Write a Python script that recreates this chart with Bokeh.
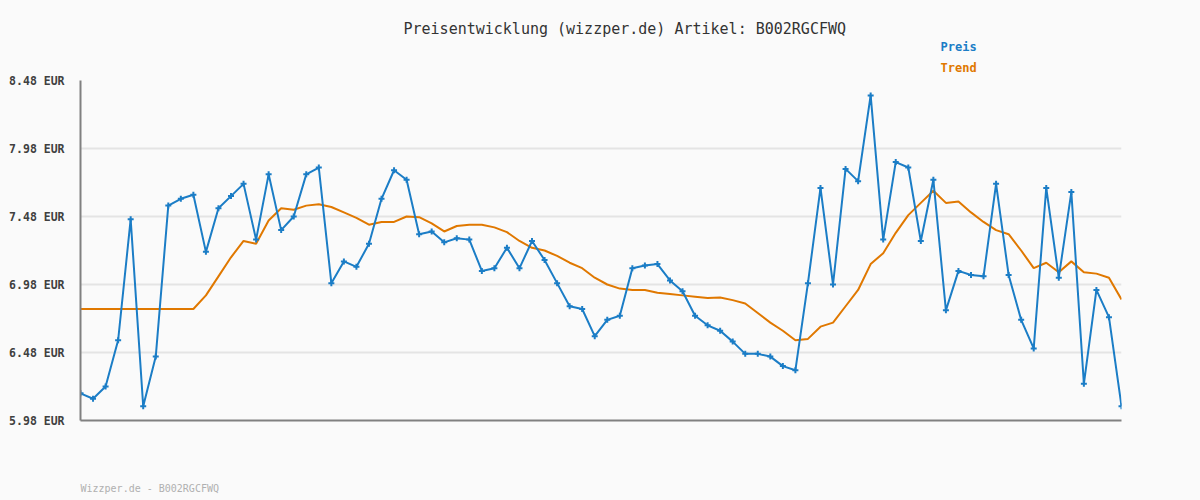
from bokeh.plotting import figure
from bokeh.models import ColumnDataSource, FixedTicker, PrintfTickFormatter, Range1d, Title
from bokeh.embed import file_html
from bokeh.resources import INLINE

preis = [6.18, 6.14, 6.23, 6.57, 7.46, 6.085, 6.45, 7.56, 7.61, 7.64,
         7.22, 7.54, 7.63, 7.72, 7.31, 7.79, 7.38, 7.48, 7.79, 7.84,
         6.99, 7.15, 7.11, 7.28, 7.61, 7.82, 7.75, 7.35, 7.37, 7.29,
         7.32, 7.31, 7.08, 7.10, 7.25, 7.10, 7.30, 7.16, 6.99, 6.82,
         6.80, 6.60, 6.72, 6.75, 7.10, 7.12, 7.13, 7.01, 6.93, 6.75,
         6.68, 6.64, 6.56, 6.47, 6.47, 6.45, 6.38, 6.35, 6.99, 7.69,
         6.98, 7.83, 7.74, 8.37, 7.31, 7.88, 7.84, 7.30, 7.75, 6.79,
         7.08, 7.05, 7.04, 7.72, 7.05, 6.72, 6.51, 7.69, 7.03, 7.66,
         6.25, 6.94, 6.74, 6.085]

trend = [6.80, 6.80, 6.80, 6.80, 6.80, 6.80, 6.80, 6.80, 6.80, 6.80,
         6.90, 7.04, 7.18, 7.30, 7.28, 7.45, 7.54, 7.53, 7.56, 7.57,
         7.55, 7.51, 7.47, 7.42, 7.44, 7.44, 7.48, 7.475, 7.43, 7.37,
         7.41, 7.42, 7.42, 7.40, 7.365, 7.30, 7.25, 7.23, 7.19, 7.14,
         7.10, 7.03, 6.98, 6.95, 6.94, 6.94, 6.92, 6.91, 6.90, 6.89,
         6.88, 6.885, 6.865, 6.84, 6.77, 6.70, 6.64, 6.57, 6.58, 6.67,
         6.70, 6.82, 6.94, 7.13, 7.21, 7.36, 7.49, 7.58, 7.67, 7.58,
         7.59, 7.51, 7.44, 7.38, 7.35, 7.23, 7.10, 7.14, 7.07, 7.15,
         7.07, 7.06, 7.03, 6.87]

y_ticks = [5.98, 6.48, 6.98, 7.48, 7.98, 8.48]
title_text = "Preisentwicklung (wizzper.de) Artikel: B002RGCFWQ"
footer_text = "Wizzper.de - B002RGCFWQ"
series_names = ["Preis", "Trend"]

BLUE = "#1b7dc6"
ORANGE = "#e07800"
BG = "#fafafa"
MONO = "DejaVu Sans Mono"

idx = list(range(len(preis)))
src = ColumnDataSource(dict(x=idx, preis=preis, trend=trend))

p = figure(width=1200, height=500, output_backend="svg", toolbar_location=None,
           x_range=Range1d(0, len(preis) - 1), y_range=Range1d(y_ticks[0], y_ticks[-1]),
           min_border_left=80, min_border_right=79, min_border_top=80, min_border_bottom=80,
           background_fill_color=BG, border_fill_color=BG, outline_line_color=None)

p.xgrid.grid_line_color = None
p.ygrid.grid_line_color = "#e4e4e4"
p.ygrid.grid_line_width = 2

p.yaxis.ticker = FixedTicker(ticks=y_ticks)
p.yaxis.formatter = PrintfTickFormatter(format="%.2f EUR")
p.yaxis.axis_line_color = "#808080"
p.yaxis.axis_line_width = 2
p.yaxis.major_tick_line_color = None
p.yaxis.minor_tick_line_color = None
p.yaxis.major_label_text_font = MONO
p.yaxis.major_label_text_font_style = "bold"
p.yaxis.major_label_text_font_size = "11.5px"
p.yaxis.major_label_text_color = "#404040"
p.yaxis.major_label_standoff = 10

# bottom axis: line only; an undrawn axis label reserves space above the footer
p.xaxis.ticker = FixedTicker(ticks=[])
p.xaxis.axis_line_color = "#808080"
p.xaxis.axis_line_width = 2
p.xaxis.major_tick_line_color = None
p.xaxis.minor_tick_line_color = None
p.xaxis.axis_label = " "
p.xaxis.axis_label_standoff = 46
p.xaxis.axis_label_text_font = MONO
p.xaxis.axis_label_text_font_size = "10px"
p.xaxis.axis_label_text_color = None

p.line("x", "trend", source=src, line_color=ORANGE, line_width=2)
p.line("x", "preis", source=src, line_color=BLUE, line_width=2)
p.scatter("x", "preis", source=src, marker="cross", size=6, line_color=BLUE, line_width=2)

# above panels: first added sits closest to the frame
p.add_layout(Title(text=series_names[1], align="left", offset=860, standoff=11,
                   text_font=MONO, text_font_size="12px", text_font_style="bold",
                   text_color=ORANGE), "above")
p.add_layout(Title(text=series_names[0], align="left", offset=860, standoff=0,
                   text_font=MONO, text_font_size="12px", text_font_style="bold",
                   text_color=BLUE), "above")
p.add_layout(Title(text=title_text, align="left", offset=323, standoff=0,
                   text_font=MONO, text_font_size="15px", text_font_style="normal",
                   text_color="#333333"), "above")
p.add_layout(Title(text=footer_text, align="left", offset=0, standoff=0,
                   text_font=MONO, text_font_size="10px", text_font_style="normal",
                   text_color="#b0b0b0"), "below")

html = file_html(p, INLINE)
html = html.replace("<head>", "<head><style>body{background:#fafafa;}</style>", 1)
open("out.html", "w").write(html)
